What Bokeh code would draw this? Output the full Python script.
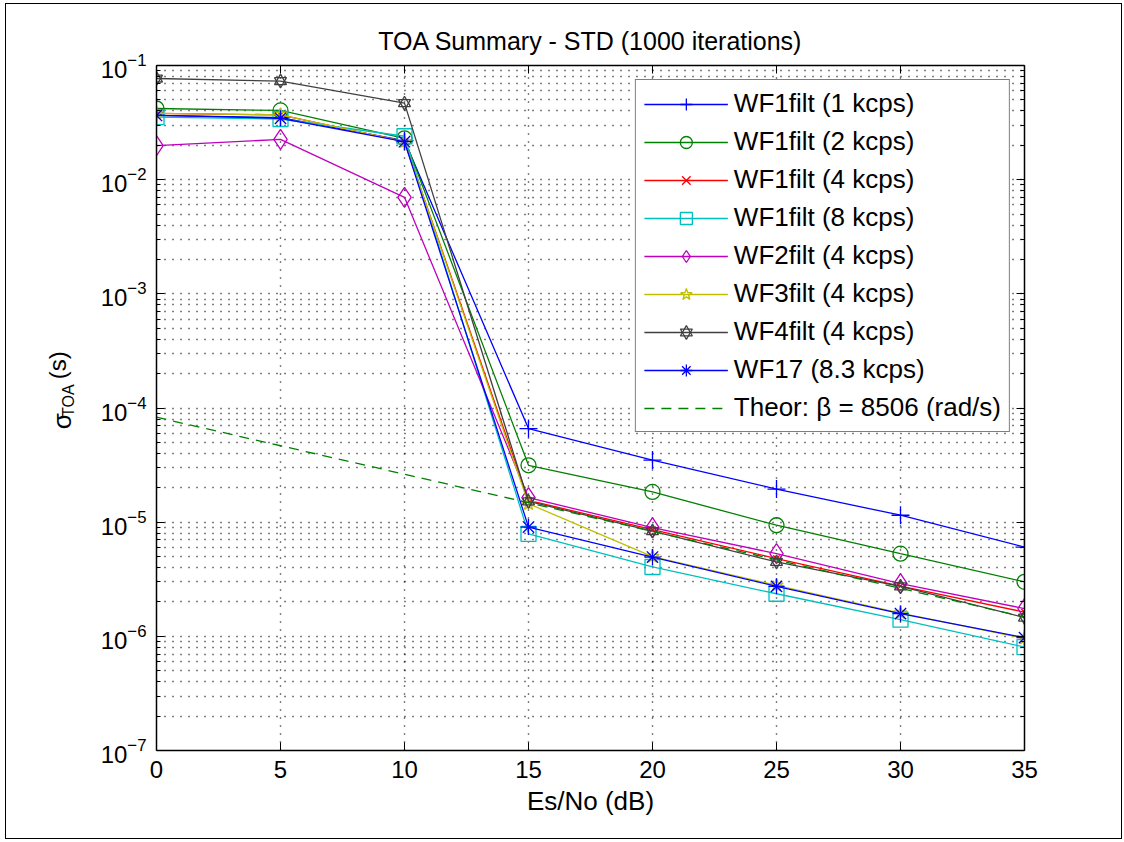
import math
from bokeh.plotting import figure
from bokeh.layouts import row
from bokeh.models import (FixedTicker, LinearAxis, LogAxis, Range1d, Legend, LegendItem,
                          Label, CustomJSTickFormatter)
from bokeh.embed import file_html
from bokeh.resources import INLINE

# ---------------- data ----------------
es_no = [0, 5, 10, 15, 20, 25, 30, 35]
wf1filt_1k = [0.0365, 0.0350, 0.0220, 6.6e-5, 3.5e-5, 1.95e-5, 1.15e-5, 6.05e-6]
wf1filt_2k = [0.0420, 0.0404, 0.0230, 3.15e-5, 1.84e-5, 9.4e-6, 5.3e-6, 3.0e-6]
wf1filt_4k = [0.0380, 0.0370, 0.0215, 1.55e-5, 8.6e-6, 4.8e-6, 2.75e-6, 1.63e-6]
wf1filt_8k = [0.0353, 0.0340, 0.0240, 7.9e-6, 4.05e-6, 2.36e-6, 1.40e-6, 8.05e-7]
wf2filt_4k = [0.0199, 0.0225, 0.0070, 1.64e-5, 8.95e-6, 5.3e-6, 2.89e-6, 1.75e-6]
wf3filt_4k = [0.0380, 0.0370, 0.0215, 1.45e-5, 5.0e-6, 2.8e-6, 1.60e-6, 9.6e-7]
wf4filt_4k = [0.0769, 0.0730, 0.0468, 1.52e-5, 8.36e-6, 4.48e-6, 2.74e-6, 1.46e-6]
wf17_8k3 = [0.0365, 0.0345, 0.0215, 9.06e-6, 4.95e-6, 2.74e-6, 1.58e-6, 9.75e-7]
theory = [8.3e-5, 4.67e-5, 2.63e-5, 1.48e-5, 8.3e-6, 4.67e-6, 2.63e-6, 1.48e-6]

series_labels = ["WF1filt (1 kcps)", "WF1filt (2 kcps)", "WF1filt (4 kcps)", "WF1filt (8 kcps)",
                 "WF2filt (4 kcps)", "WF3filt (4 kcps)", "WF4filt (4 kcps)", "WF17 (8.3 kcps)"]
theory_label = "Theor: \u03b2 = 8506 (rad/s)"

x_ticks = [0, 5, 10, 15, 20, 25, 30, 35]
y_ticks = [1e-7, 1e-6, 1e-5, 1e-4, 1e-3, 1e-2, 1e-1]

FONT = "Liberation Sans"
H = 834          # height of both panels
LAB_W = 80       # width of the y-label strip
MAIN_W = 1035    # width of the main plot

minor = [m * 10.0 ** e for e in range(-7, -1) for m in range(2, 10)]

# ---------------- main plot ----------------
p = figure(width=MAIN_W, height=H, y_axis_type="log",
           x_range=Range1d(0, 35), y_range=Range1d(1e-7, 1e-1),
           output_backend="svg", toolbar_location=None,
           min_border_left=70, min_border_right=97, min_border_top=61, min_border_bottom=88,
           title="TOA Summary - STD (1000 iterations)")
p.background_fill_color = "white"
p.border_fill_color = "white"
p.outline_line_color = None

p.title.align = "center"
p.title.text_font = FONT
p.title.text_font_size = "25px"
p.title.text_font_style = "normal"
p.title.text_color = "black"
p.title.standoff = 22

xt = FixedTicker(ticks=x_ticks)
yt = FixedTicker(ticks=y_ticks, minor_ticks=minor)

for ax in (p.xaxis[0], p.yaxis[0]):
    ax.axis_line_color = "black"
    ax.axis_line_width = 1.5
    ax.major_tick_line_color = "black"
    ax.minor_tick_line_color = "black"
    ax.major_tick_in = 8
    ax.major_tick_out = 0
    ax.minor_tick_out = 0
    ax.major_label_text_font = FONT
    ax.major_label_text_font_size = "24px"
    ax.major_label_text_color = "black"

p.xaxis.ticker = xt
p.xaxis.minor_tick_in = 0
p.xaxis.major_label_standoff = 10
p.xaxis.axis_label = "Es/No (dB)"
p.xaxis.axis_label_text_font = FONT
p.xaxis.axis_label_text_font_size = "26px"
p.xaxis.axis_label_text_font_style = "normal"
p.xaxis.axis_label_text_color = "black"
p.xaxis.axis_label_standoff = 5

p.yaxis.ticker = yt
p.yaxis.minor_tick_in = 4
p.yaxis.major_label_standoff = 10

top_axis = LinearAxis(ticker=FixedTicker(ticks=x_ticks),
                      formatter=CustomJSTickFormatter(code="return ''"),
                      major_tick_in=8, major_tick_out=0, minor_tick_in=0, minor_tick_out=0,
                      major_label_text_font_size="0px", major_label_standoff=0,
                      axis_line_color="black", axis_line_width=1.5,
                      major_tick_line_color="black")
p.add_layout(top_axis, "above")
right_axis = LogAxis(ticker=FixedTicker(ticks=y_ticks, minor_ticks=minor),
                     formatter=CustomJSTickFormatter(code="return ''"),
                     major_tick_in=8, major_tick_out=0, minor_tick_in=4, minor_tick_out=0,
                     major_label_text_font_size="0px", major_label_standoff=0,
                     axis_line_color="black", axis_line_width=1.5,
                     major_tick_line_color="black", minor_tick_line_color="black")
p.add_layout(right_axis, "right")

p.xgrid.ticker = xt
p.ygrid.ticker = yt
for g in (p.xgrid[0], p.ygrid[0]):
    g.grid_line_color = "black"
    g.grid_line_dash = "1 7"
    g.grid_line_width = 1.4
    g.grid_line_alpha = 1.0
p.ygrid.minor_grid_line_color = "black"
p.ygrid.minor_grid_line_dash = "1 7"
p.ygrid.minor_grid_line_width = 1.4
p.ygrid.minor_grid_line_alpha = 1.0

series_values = [wf1filt_1k, wf1filt_2k, wf1filt_4k, wf1filt_8k,
                 wf2filt_4k, wf3filt_4k, wf4filt_4k, wf17_8k3]
colors = ["#0000ff", "#008000", "#ff0000", "#00bfbf", "#bf00bf", "#bfbf00", "#404040", "#0000ff"]
markers = [["cross"], ["circle"], ["x"], ["square"], ["diamond"], ["star"],
           ["triangle", "inverted_triangle"], ["asterisk"]]
sizes = [18, 15, 9, 15, 20, 14, 12, 16]

items = []
for lab_text, vals, col, mks, sz in zip(series_labels, series_values, colors, markers, sizes):
    r_line = p.line(es_no, vals, line_color=col, line_width=1.3)
    rends = [r_line]
    for mk in mks:
        r_m = p.scatter(es_no, vals, marker=mk, size=sz, line_color=col,
                        fill_color=None, line_width=1.3)
        rends.append(r_m)
    items.append(LegendItem(label=lab_text, renderers=rends))

r_th = p.line(es_no, theory, line_color="#008000", line_width=1.3, line_dash="10 7")
items.append(LegendItem(label=theory_label, renderers=[r_th]))

legend = Legend(items=items, location="top_right", margin=14,
                label_text_font=FONT, label_text_font_size="26px", label_text_color="black",
                glyph_width=84, glyph_height=30, label_height=30, spacing=7, padding=8,
                label_standoff=6, border_line_color="black", border_line_width=1.5,
                background_fill_color="white", background_fill_alpha=1.0)
p.add_layout(legend, "center")

# ---------------- y-label strip (sigma with subscript TOA, then (s)) ----------------
lab = figure(width=LAB_W, height=H, x_range=Range1d(0, LAB_W), y_range=Range1d(H, 0),
             output_backend="svg", toolbar_location=None, min_border=0,
             x_axis_location=None, y_axis_location=None)
lab.outline_line_color = None
lab.background_fill_color = "white"
lab.border_fill_color = "white"
lab.grid.visible = False

lab.add_layout(Label(x=55, y=443, text="\u03c3", angle=math.pi / 2,
                     text_font=FONT, text_font_size="26px", text_align="left",
                     text_baseline="middle", text_color="black"))
lab.add_layout(Label(x=62, y=428, text="TOA", angle=math.pi / 2,
                     text_font=FONT, text_font_size="16px", text_align="left",
                     text_baseline="middle", text_color="black"))
lab.add_layout(Label(x=51, y=382, text="(s)", angle=math.pi / 2,
                     text_font=FONT, text_font_size="24px", text_align="left",
                     text_baseline="middle", text_color="black"))

layout = row(lab, p)
layout.styles = {"border": "1px solid black", "margin-left": "5px", "margin-top": "3px"}

open("out.html", "w").write(file_html(layout, INLINE))
